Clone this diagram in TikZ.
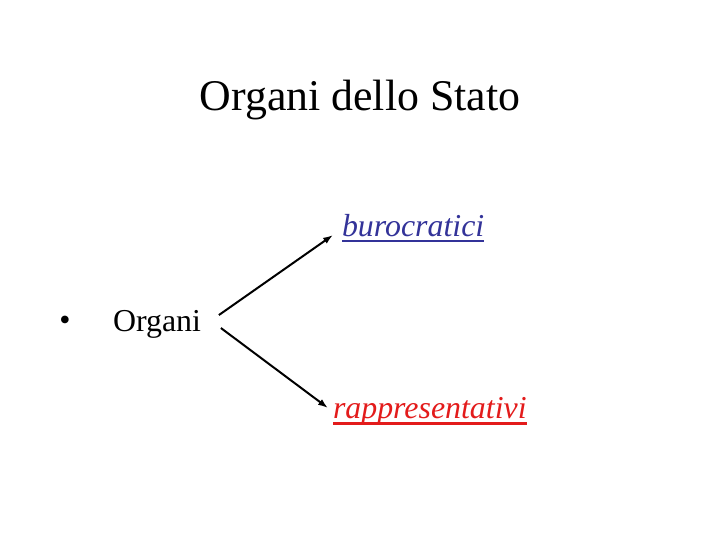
\documentclass[tikz,border=0pt]{standalone}
\usepackage{fontspec}
\setmainfont{Liberation Serif}
\usepackage{xcolor}
\usetikzlibrary{positioning, arrows.meta}
\definecolor{buroblue}{HTML}{333399}
\definecolor{rapred}{HTML}{E31B1B}

\begin{document}
\begin{tikzpicture}[x=1bp, y=-1bp, inner sep=0pt, outer sep=0pt,
  ramo/.style={-{Latex[length=10pt, width=7pt]}, line width=2pt}]
  \useasboundingbox[fill=white] (0,0) rectangle (720,540);
  \node[anchor=base] (titolo) at (360,111) {\fontsize{44}{50}\selectfont Organi dello Stato};
  \node[anchor=base] (punto) at (65,330) {\fontsize{32}{36}\selectfont\textbullet};
  \node[anchor=base west] (organi) at (113,331) {\fontsize{32}{36}\selectfont Organi};
  \node[anchor=base west, text=buroblue] (buro) at (342,237) {\fontsize{32}{36}\selectfont\itshape burocratici};
  \node[anchor=base west, text=rapred] (rapp) at (333,418) {\fontsize{32}{36}\selectfont\itshape rappresentativi};
  % sottolineature
  \draw[buroblue, line width=1.5pt] ([yshift=-4pt]buro.base west) -- ([yshift=-4pt]buro.base east);
  \draw[rapred, line width=3pt] ([yshift=-6pt]rapp.base west) -- ([yshift=-6pt]rapp.base east);
  % frecce
  \coordinate (su) at ([xshift=18pt, yshift=16pt]organi.base east);
  \coordinate (giu) at ([xshift=20pt, yshift=3pt]organi.base east);
  \draw[ramo] (su) -- ([xshift=-9pt, yshift=2pt]buro.base west);
  \draw[ramo] (giu) -- ([xshift=-5pt, yshift=10pt]rapp.base west);
\end{tikzpicture}
\end{document}
